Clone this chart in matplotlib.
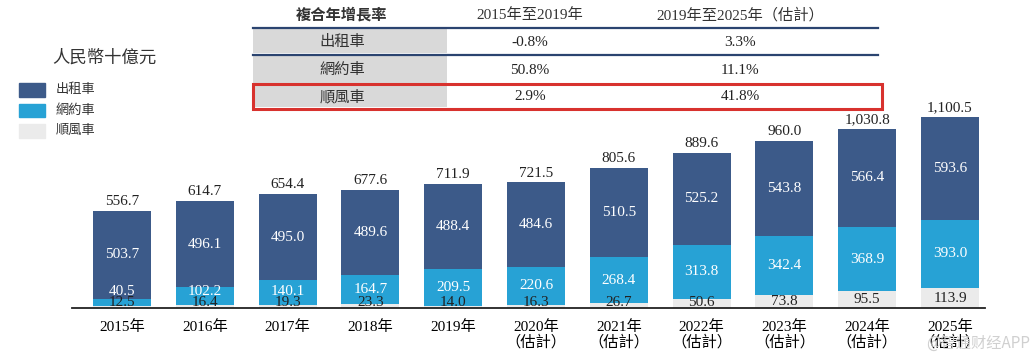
import numpy as np
import matplotlib
matplotlib.use("Agg")
import matplotlib.pyplot as plt
from matplotlib.patches import Rectangle

plt.rcParams['font.family'] = ['Liberation Serif', 'Noto Sans CJK TC', 'DejaVu Sans']

# data (人民幣十億元)
years = ['2015年', '2016年', '2017年', '2018年', '2019年', '2020年',
         '2021年', '2022年', '2023年', '2024年', '2025年']
estimated = [False] * 5 + [True] * 6
taxi = [503.7, 496.1, 495.0, 489.6, 488.4, 484.6, 510.5, 525.2, 543.8, 566.4, 593.6]
ridehail = [40.5, 102.2, 140.1, 164.7, 209.5, 220.6, 268.4, 313.8, 342.4, 368.9, 393.0]
carpool = [12.5, 16.4, 19.3, 23.3, 14.0, 16.3, 26.7, 50.6, 73.8, 95.5, 113.9]
totals = [556.7, 614.7, 654.4, 677.6, 711.9, 721.5, 805.6, 889.6, 960.0, 1030.8, 1100.5]

series_names = ['出租車', '網約車', '順風車']
cagr_header = ['複合年增長率', '2015年至2019年', '2019年至2025年（估計）']
cagr_1519 = ['-0.8%', '50.8%', '2.9%']
cagr_1925 = ['3.3%', '11.1%', '41.8%']

c_taxi = '#3c5a89'
c_ride = '#27a2d5'
c_pool = '#ebebeb'
c_line = '#2b4470'
c_red = '#d8322e'

W, H = 1035, 359
fig = plt.figure(figsize=(W / 100, H / 100), dpi=100)

# bar axes: baseline at y=308px, 0.174 px per unit, bars ~83px apart
base_px = 308
scale = 0.174
step = 82.8
first = 122
ax = fig.add_axes([0, (H - base_px) / H, 1, base_px / H])
ax.set_ylim(0, base_px / scale)
ax.set_xlim(-first / step, (W - first) / step)
for s in ax.spines.values():
    s.set_visible(False)
ax.set_yticks([])

x = np.arange(len(years))
bw = 58 / step
pool = np.array(carpool)
ride = np.array(ridehail)
tx = np.array(taxi)
ax.bar(x, pool, bw, color=c_pool)
ax.bar(x, ride, bw, bottom=pool, color=c_ride)
ax.bar(x, tx, bw, bottom=pool + ride, color=c_taxi)

ax.plot([x[0] - 0.6, x[-1] + 0.42], [0, 0], color='#222222', lw=1.3, clip_on=False)

fs = 11
for i in range(len(x)):
    ax.text(x[i], max(pool[i] / 2, 33), f'{carpool[i]:.1f}', ha='center', va='center',
            fontsize=fs, color='#222222')
    ax.text(x[i], max(pool[i] + ride[i] / 2, 97), f'{ridehail[i]:.1f}', ha='center',
            va='center', fontsize=fs, color='white')
    ax.text(x[i], pool[i] + ride[i] + tx[i] / 2, f'{taxi[i]:.1f}', ha='center',
            va='center', fontsize=fs, color='white')
    ax.annotate(f'{totals[i]:,.1f}', (x[i], totals[i]), xytext=(0, 2),
                textcoords='offset points', ha='center', va='bottom',
                fontsize=fs, color='#222222')

labels = [y + '\n（估計）' if e else y for y, e in zip(years, estimated)]
ax.set_xticks(x, labels)
ax.tick_params(axis='x', length=0, pad=9, labelsize=fs)
for t in ax.get_xticklabels():
    t.set_linespacing(1.0)

# overlay in pixel coordinates for table and legend
ov = fig.add_axes([0, 0, 1, 1])
ov.set_xlim(0, W)
ov.set_ylim(H, 0)
ov.axis('off')

# legend
ov.text(104, 58, '人民幣十億元', ha='center', va='center', fontsize=12.5, color='#333333')
for k, (nm, c) in enumerate(zip(series_names, [c_taxi, c_ride, c_pool])):
    y0 = 83 + k * 20.5
    ov.add_patch(Rectangle((19, y0), 26, 13.5, color=c))
    ov.text(56, y0 + 7, nm, ha='left', va='center', fontsize=9.5, color='#333333')

# CAGR table
tl, tr = 253, 878
col_x = [342, 530, 740]
ov.text(col_x[0], 15, cagr_header[0], ha='center', va='center', fontsize=11,
        fontweight='bold', color='#333333')
ov.text(col_x[1], 15, cagr_header[1], ha='center', va='center', fontsize=11, color='#333333')
ov.text(col_x[2], 15, cagr_header[2], ha='center', va='center', fontsize=11, color='#333333')
row_y = [42, 70, 97]
row_top = [29, 56, 86]
row_bot = [53, 83, 107]
for k in range(3):
    ov.add_patch(Rectangle((tl, row_top[k]), 447 - tl, row_bot[k] - row_top[k],
                           color='#d9d9d9', lw=0))
    ov.text(col_x[0], row_y[k], series_names[k], ha='center', va='center', fontsize=11,
            color='#333333')
    ov.text(col_x[1], row_y[k], cagr_1519[k], ha='center', va='center', fontsize=11,
            color='#222222')
    ov.text(col_x[2], row_y[k], cagr_1925[k], ha='center', va='center', fontsize=11,
            color='#222222')
for ly in [27.5, 54.5]:
    ov.plot([tl, tr], [ly, ly], color=c_line, lw=1.6)
ov.add_patch(Rectangle((253, 84), 629, 24.5, fill=False, edgecolor=c_red, lw=2.2))

ov.text(1030, 343, '@智通财经APP', ha='right', va='center', fontsize=11,
        color='#d0d0d0', family=['Noto Sans CJK SC', 'DejaVu Sans'])

fig.savefig('out.png', dpi=100)
